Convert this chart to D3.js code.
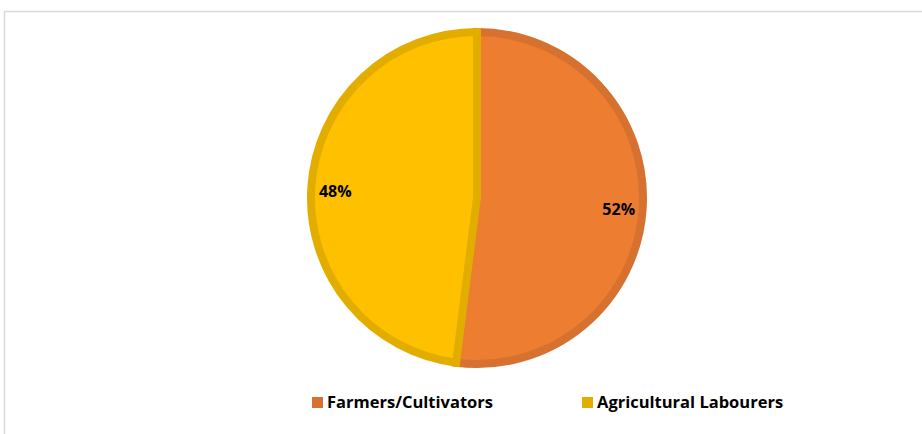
<!DOCTYPE html>
<html>
<head>
<meta charset="utf-8">
<script src="https://cdn.jsdelivr.net/npm/d3@7"></script>
<style>
  body { margin: 0; background: #fff; }
  text { font-family: "Open Sans", "Liberation Sans", sans-serif; font-weight: bold; }
</style>
</head>
<body>
<div id="pie_chart"></div>
<script>

var categories = ["Farmers/Cultivators", "Agricultural Labourers"];
var shares = [52, 48];
var fillColours = ["#ED7D31", "#FFC000"];
var edgeColours = ["#D6712F", "#E3AD00"];

plot_pie_chart(categories, shares, "#pie_chart");

function plot_pie_chart (categories, shares, htmlObjectId) {
    var width = 922;
    var height = 434;
    var cx = 477, cy = 198, radius = 170;

    var canvas = d3.select(htmlObjectId)
                    .append("svg")
                    .attr("width", width)
                    .attr("height", height);

    // chart area frame (runs off the right and bottom edges)
    canvas.append("rect")
        .attr("x", 4.5)
        .attr("y", 11.5)
        .attr("width", 960)
        .attr("height", 460)
        .attr("fill", "none")
        .attr("stroke", "#d9d9d9")
        .attr("stroke-width", 1.5);

    var pie = d3.pie().sort(null).value(function(d) { return d; });
    var slices = pie(shares);

    var arc = d3.arc().innerRadius(0).outerRadius(radius - 4);
    var labelArc = d3.arc().innerRadius(radius - 28).outerRadius(radius - 28);

    var g = canvas.append("g").attr("transform", "translate(" + cx + "," + cy + ")");

    g.selectAll("path")
        .data(slices)
        .enter()
            .append("path")
            .attr("d", arc)
            .attr("fill", function(d, i) { return fillColours[i]; })
            .attr("stroke", function(d, i) { return edgeColours[i]; })
            .attr("stroke-width", 8)
            .attr("stroke-linejoin", "miter");

    g.selectAll("text.lbl")
        .data(slices)
        .enter()
            .append("text")
            .attr("class", "lbl")
            .attr("transform", function(d) {
                var c = labelArc.centroid(d);
                return "translate(" + c[0] + "," + (c[1] + 8) + ")";
            })
            .attr("text-anchor", "middle")
            .attr("font-size", 16)
            .attr("fill", "#000")
            .text(function(d) { return d.value + "%"; });

    // legend
    var legendX = [312, 582];
    var legend = canvas.selectAll("g.legend")
        .data(categories)
        .enter()
            .append("g")
            .attr("class", "legend")
            .attr("transform", function(d, i) { return "translate(" + legendX[i] + ",397)"; });

    legend.append("rect")
        .attr("width", 11)
        .attr("height", 11)
        .attr("fill", function(d, i) { return edgeColours[i]; });

    legend.append("text")
        .attr("x", 15)
        .attr("y", 11)
        .attr("font-size", 16.5)
        .attr("fill", "#000")
        .text(function(d) { return d; });
}
</script>
</body>
</html>
